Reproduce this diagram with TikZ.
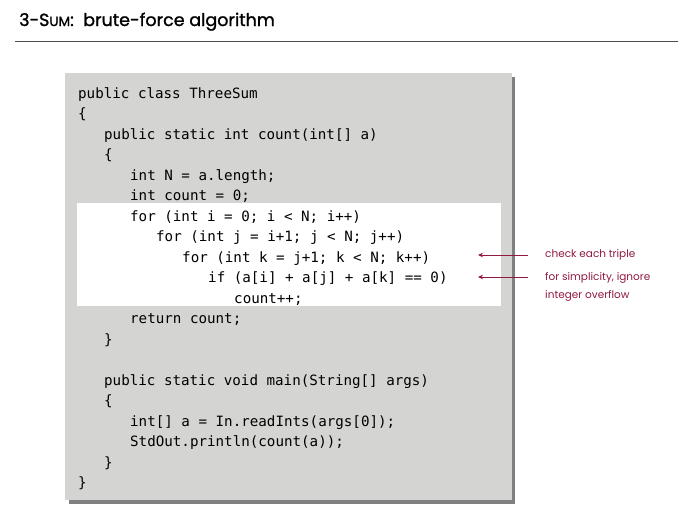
\documentclass[tikz,border=0pt]{standalone}
\usepackage{fontspec}
\setmainfont{Poppins}
\setmonofont{DejaVu Sans Mono}
\newfontfamily\headfont{Poppins}[FakeBold=1.2]
\usetikzlibrary{positioning,arrows.meta}
\definecolor{notered}{RGB}{145,25,65}
\definecolor{listgray}{RGB}{212,213,211}

\begin{document}
\begin{tikzpicture}[x=1pt, y=-1pt,
  title/.style={anchor=base west, inner sep=0pt, font=\headfont\fontsize{17.5}{17.5}\selectfont},
  code/.style={anchor=base west, inner sep=0pt, font=\fontsize{14.2}{14.2}\selectfont\ttfamily},
  note/.style={anchor=west, inner sep=0pt, align=left, font=\fontsize{10.5}{18}\selectfont\color{notered}},
  note-arrow/.style={-{Stealth[length=5pt,width=4.5pt]}, draw=notered, line width=1pt}
]
  \useasboundingbox (0,0) rectangle (678,523);

  \node (title) at (19,26) [title] {3-S{\fontsize{13.5}{13.5}\selectfont UM}:\ \ brute-force algorithm};
  \draw[line width=1pt, black!70] (15,41) -- (678,41);

  % listing box with shadow
  \fill[black!50] (69,77) rectangle (515,504);
  \fill[listgray] (65,73) rectangle (512,500);
  \fill[white] (77,203) rectangle (501,306);

  \node (cls)       at (78,98)  [code] {public class ThreeSum};
  \node (cls-open)  at (78,118) [code] {\{};
  \node (cnt)       at (104,139) [code] {public static int count(int[] a)};
  \node (cnt-open)  at (104,159) [code] {\{};
  \node (len)       at (130,180) [code] {int N = a.length;};
  \node (zero)      at (130,200) [code] {int count = 0;};
  \node (for-i)     at (130,221) [code] {for (int i = 0; i < N; i++)};
  \node (for-j)     at (156,241) [code] {for (int j = i+1; j < N; j++)};
  \node (for-k)     at (182,262) [code] {for (int k = j+1; k < N; k++)};
  \node (if-sum)    at (208,282) [code] {if (a[i] + a[j] + a[k] == 0)};
  \node (inc)       at (234,303) [code] {count++;};
  \node (ret)       at (130,323) [code] {return count;};
  \node (cnt-close) at (104,344) [code] {\}};
  \node (main)      at (104,385) [code] {public static void main(String[] args)};
  \node (main-open) at (104,405) [code] {\{};
  \node (read)      at (130,426) [code] {int[] a = In.readInts(args[0]);};
  \node (print)     at (130,446) [code] {StdOut.println(count(a));};
  \node (main-close) at (104,467) [code] {\}};
  \node (cls-close) at (78,487) [code] {\}};

  % annotations
  \node (triple) at (545,255) [note] {check each triple};
  \node (overflow) at (545,287) [note] {for simplicity, ignore\\integer overflow};
  \coordinate (triple-tail) at (528,255);
  \coordinate (triple-tip) at (478,255);
  \coordinate (overflow-tail) at (528,277);
  \coordinate (overflow-tip) at (478,277);
  \draw[note-arrow] (triple-tail) -- (triple-tip);
  \draw[note-arrow] (overflow-tail) -- (overflow-tip);

\end{tikzpicture}
\end{document}
